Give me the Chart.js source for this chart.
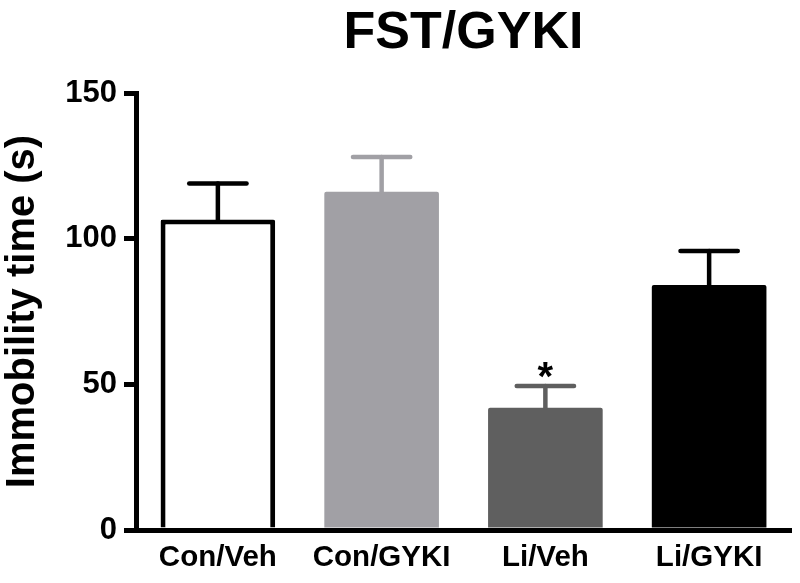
<!DOCTYPE html>
<html>
<head>
<meta charset="utf-8">
<script src="https://cdn.jsdelivr.net/npm/chart.js@4/dist/chart.umd.min.js"></script>
<style>
  html, body { margin: 0; padding: 0; background: #ffffff; }
  #wrap { width: 800px; height: 583px; }
</style>
</head>
<body>
<div id="wrap"><canvas id="c" width="800" height="583"></canvas></div>
<script>
// ---- data ----
const categories = ["Con/Veh", "Con/GYKI", "Li/Veh", "Li/GYKI"];
const meanValues = [106.6, 116.1, 42.0, 84.1];
const semValues = [12.3, 11.9, 7.4, 11.7];
const significant = [false, false, true, false];
const yTicks = [0, 50, 100, 150];

// ---- styles ----
const FONT = "'Liberation Sans', Arial, Helvetica, sans-serif";
const fillColors = ["#ffffff", "#a1a0a5", "#5f5f5f", "#000000"];
const lineColors = ["#000000", "#a1a0a5", "#5f5f5f", "#000000"];
const borderWidths = [5, 0, 0, 0];

const errorBarPlugin = {
  id: "errorBars",
  afterDatasetsDraw(chart) {
    const ctx = chart.ctx;
    const meta = chart.getDatasetMeta(0);
    const yScale = chart.scales.y;
    ctx.save();
    meta.data.forEach((bar, i) => {
      const x = bar.x;
      const yTop = yScale.getPixelForValue(meanValues[i]);
      const yErr = yScale.getPixelForValue(meanValues[i] + semValues[i]);
      const half = bar.width * 0.25;
      ctx.strokeStyle = lineColors[i];
      ctx.lineWidth = 4.5;
      ctx.lineCap = "round";
      ctx.beginPath();
      ctx.moveTo(x, yTop);
      ctx.lineTo(x, yErr);
      ctx.stroke();
      ctx.beginPath();
      ctx.moveTo(x - half, yErr);
      ctx.lineTo(x + half, yErr);
      ctx.stroke();
      if (significant[i]) {
        ctx.fillStyle = "#000000";
        ctx.font = "bold 40px " + FONT;
        ctx.textAlign = "center";
        ctx.textBaseline = "alphabetic";
        ctx.fillText("*", x, yErr + 4);
      }
    });
    ctx.restore();
  }
};

new Chart(document.getElementById("c"), {
  type: "bar",
  data: {
    labels: categories,
    datasets: [{
      data: meanValues,
      backgroundColor: fillColors,
      borderColor: lineColors,
      borderWidth: borderWidths,
      borderSkipped: "start",
      borderRadius: 2,
      categoryPercentage: 1.0,
      barPercentage: 0.70
    }]
  },
  options: {
    responsive: false,
    animation: false,
    devicePixelRatio: 1,
    layout: { padding: { left: 0, right: 9, top: 0, bottom: 0 } },
    plugins: {
      legend: { display: false },
      tooltip: { enabled: false },
      title: {
        display: true,
        fullSize: false,
        text: "FST/GYKI",
        color: "#000000",
        font: { family: FONT, size: 52, weight: "bold", lineHeight: 1.2 },
        padding: { top: 2, bottom: 28.6 }
      }
    },
    scales: {
      x: {
        grid: { display: false, drawTicks: false },
        border: { display: true, color: "#000000", width: 5 },
        ticks: {
          color: "#000000",
          padding: 10,
          font: { family: FONT, size: 29.5, weight: "bold", lineHeight: 1.2 }
        },
        afterFit(scale) { scale.height = 53; }
      },
      y: {
        min: 0,
        max: 150,
        afterBuildTicks(scale) { scale.ticks = yTicks.map(v => ({ value: v })); },
        grid: {
          drawOnChartArea: false,
          drawTicks: true,
          tickLength: 12,
          tickWidth: 5,
          tickColor: "#000000",
          lineWidth: 5,
          color: "#000000"
        },
        border: { display: true, color: "#000000", width: 5 },
        ticks: {
          color: "#000000",
          padding: 7,
          font: { family: FONT, size: 31, weight: "bold", lineHeight: 1.2 }
        },
        title: {
          display: true,
          text: "Immobility time (s)",
          color: "#000000",
          padding: { top: 0, bottom: 0 },
          font: { family: FONT, size: 40, weight: "bold", lineHeight: 1.15 }
        },
        afterFit(scale) { scale.width = 136; }
      }
    }
  },
  plugins: [errorBarPlugin]
});
</script>
</body>
</html>
